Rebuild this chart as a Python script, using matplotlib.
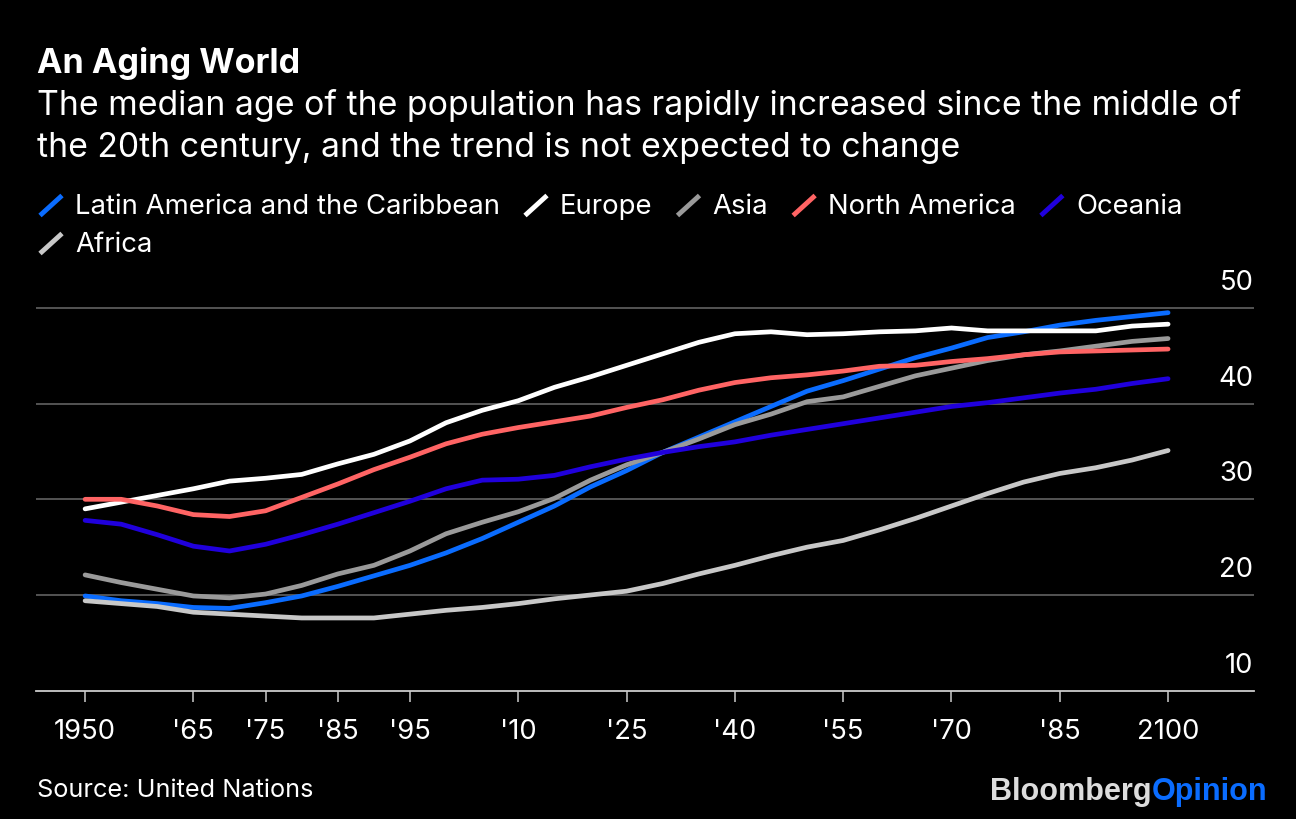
import matplotlib
matplotlib.use("Agg")
import matplotlib.pyplot as plt
from matplotlib.lines import Line2D
from matplotlib.transforms import Affine2D, ScaledTranslation, blended_transform_factory

plt.rcParams['font.family'] = ['Inter', 'Liberation Sans', 'DejaVu Sans']

# ---------------- data ----------------
years = list(range(1950, 2101, 5))
latin_america = [19.9, 19.4, 19.1, 18.7, 18.6, 19.2, 19.9, 20.9, 22.0, 23.1, 24.4,
                 25.9, 27.6, 29.3, 31.3, 33.0, 34.9, 36.5, 38.1, 39.7, 41.3,
                 42.4, 43.6, 44.8, 45.8, 46.9, 47.5, 48.2, 48.7, 49.1, 49.5]
europe = [29.0, 29.7, 30.4, 31.1, 31.9, 32.2, 32.6, 33.7, 34.7, 36.1, 38.0,
          39.3, 40.3, 41.7, 42.8, 44.0, 45.2, 46.4, 47.3, 47.5, 47.2,
          47.3, 47.5, 47.6, 47.9, 47.6, 47.6, 47.6, 47.6, 48.1, 48.3]
asia = [22.1, 21.3, 20.6, 19.9, 19.7, 20.1, 21.0, 22.2, 23.1, 24.6, 26.4,
        27.6, 28.7, 30.1, 32.0, 33.6, 34.9, 36.3, 37.8, 38.9, 40.2,
        40.7, 41.8, 42.9, 43.7, 44.5, 45.1, 45.5, 46.0, 46.5, 46.8]
north_america = [30.0, 30.0, 29.3, 28.4, 28.2, 28.8, 30.2, 31.6, 33.1, 34.4, 35.8,
                 36.8, 37.5, 38.1, 38.7, 39.6, 40.4, 41.4, 42.2, 42.7, 43.0,
                 43.4, 43.9, 44.0, 44.4, 44.7, 45.1, 45.4, 45.5, 45.6, 45.7]
oceania = [27.8, 27.4, 26.3, 25.1, 24.6, 25.3, 26.3, 27.4, 28.6, 29.8, 31.1,
           32.0, 32.1, 32.5, 33.4, 34.2, 34.9, 35.5, 36.0, 36.7, 37.3,
           37.9, 38.5, 39.1, 39.7, 40.1, 40.6, 41.1, 41.5, 42.1, 42.6]
africa = [19.4, 19.1, 18.8, 18.2, 18.0, 17.8, 17.6, 17.6, 17.6, 18.0, 18.4,
          18.7, 19.1, 19.6, 20.0, 20.4, 21.2, 22.2, 23.1, 24.1, 25.0,
          25.7, 26.8, 28.0, 29.3, 30.6, 31.8, 32.7, 33.3, 34.1, 35.1]

series_names = ["Latin America and the Caribbean", "Europe", "Asia",
                "North America", "Oceania", "Africa"]
series_values = [latin_america, europe, asia, north_america, oceania, africa]
series_colors = ["#0a6cff", "#ffffff", "#9a9a9a", "#ff6464", "#2000dc", "#c8c8c8"]

x_ticks = [1950, 1965, 1975, 1985, 1995, 2010, 2025, 2040, 2055, 2070, 2085, 2100]
x_tick_labels = ["1950", "'65", "'75", "'85", "'95", "'10", "'25", "'40",
                 "'55", "'70", "'85", "2100"]
y_ticks = [10, 20, 30, 40, 50]

title = "An Aging World"
subtitle = ("The median age of the population has rapidly increased since the middle of\n"
            "the 20th century, and the trend is not expected to change")
source = "Source: United Nations"

# ---------------- figure ----------------
W, H = 1296, 820
fig = plt.figure(figsize=(W / 100, H / 100), dpi=100, facecolor="black")
pix = Affine2D().scale(1, -1).translate(0, H)  # pixel coords, y downward
renderer = fig.canvas.get_renderer()


def fit_size(s, target_w, base=20, **kw):
    t = fig.text(0, 0, s, fontsize=base, **kw)
    w = t.get_window_extent(renderer).width
    t.remove()
    return base * target_w / w


# axes placement (pixels)
ax_left, ax_right = 36, 1254
y_bottom_px = 691.7
px_per_unit = 9.57
ylim = (10, 52)
ax_h = (ylim[1] - ylim[0]) * px_per_unit
ax = fig.add_axes([ax_left / W, (H - y_bottom_px) / H,
                   (ax_right - ax_left) / W, ax_h / H])
ax.set_facecolor("black")
ax.set_xlim(1943.2, 2111.9)
ax.set_ylim(*ylim)

for name, vals, col in zip(series_names, series_values, series_colors):
    ax.plot(years, vals, color=col, lw=3.4, solid_capstyle="round",
            solid_joinstyle="round", zorder=3)

# grid
for v in y_ticks[1:]:
    ax.axhline(v, color="#5a5a5a", lw=1.3, zorder=1)
for s in ["left", "right", "top"]:
    ax.spines[s].set_visible(False)
ax.spines["bottom"].set_color("#cccccc")
ax.spines["bottom"].set_linewidth(1.3)

tick_fs = fit_size("1950", 62)
ax.set_yticks([])
ax.set_xticks(x_ticks)
ax.set_xticklabels(x_tick_labels)
ax.tick_params(axis="x", direction="out", length=8, width=1.1, color="#cccccc",
               labelcolor="white", labelsize=tick_fs, pad=12)

# y labels above gridlines, right aligned
trans = blended_transform_factory(ax.transAxes, ax.transData)
off = ScaledTranslation(0, 19 / 100, fig.dpi_scale_trans)
for v in y_ticks:
    ax.text(0.9995, v, str(v), transform=trans + off, ha="right", va="baseline",
            color="white", fontsize=tick_fs)

# titles
title_fs = fit_size(title, 264, fontweight="bold")
fig.text(37, 73.3, title, transform=pix, color="white", fontsize=title_fs,
         fontweight="bold", va="baseline", ha="left")
lines = subtitle.split("\n")
sub_fs = fit_size(lines[0], 1203)
fig.text(37, 115, lines[0], transform=pix, color="white", fontsize=sub_fs,
         va="baseline", ha="left")
fig.text(37, 157.3, lines[1], transform=pix, color="white", fontsize=sub_fs,
         va="baseline", ha="left")

# legend (manual, wraps)
leg_fs = fit_size(series_names[0], 425)
x = 38
row_base = [214.5, 252.5]
row = 0
for name, col in zip(series_names, series_colors):
    t = fig.text(0, 0, name, transform=pix, color="white", fontsize=leg_fs,
                 va="baseline", ha="left")
    w = t.get_window_extent(renderer).width
    if x + 37 + w > ax_right + 10:
        row += 1
        x = 38
    yb = row_base[row]
    t.set_position((x + 37, yb))
    fig.add_artist(Line2D([x + 2, x + 24], [yb + 2, yb - 18], transform=pix,
                          color=col, lw=3.5, solid_capstyle="butt"))
    x = x + 37 + w + 23

# footer
src_fs = fit_size(source, 276)
fig.text(37, 797.3, source, transform=pix, color="white", fontsize=src_fs,
         va="baseline", ha="left")
logo_fs = fit_size("BloombergOpinion", 277, fontweight="bold",
                   family=["Liberation Sans"])
tb = fig.text(990, 800, "Bloomberg", transform=pix, color="#dcdcdc", fontsize=logo_fs,
              fontweight="bold", va="baseline", ha="left", family=["Liberation Sans"])
bw = tb.get_window_extent(renderer).width
fig.text(990 + bw, 800, "Opinion", transform=pix, color="#0a6cff", fontsize=logo_fs,
         fontweight="bold", va="baseline", ha="left", family=["Liberation Sans"])

fig.savefig("out.png", dpi=100, facecolor="black")
